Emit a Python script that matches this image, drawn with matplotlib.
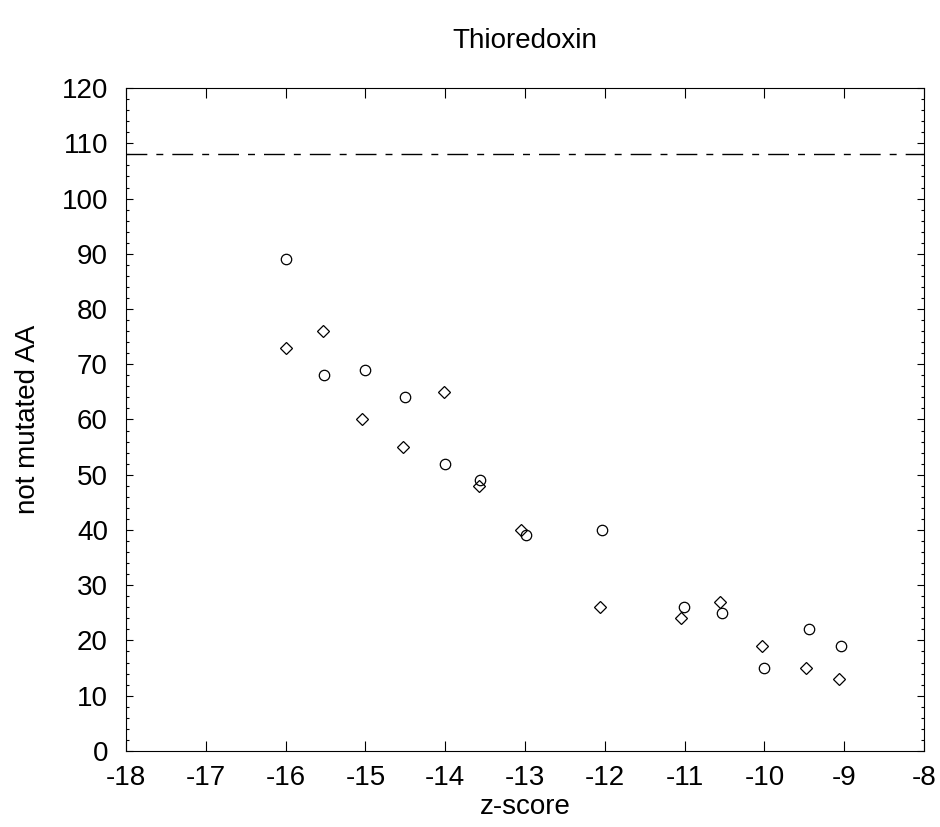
import numpy as np
import matplotlib
matplotlib.use("Agg")
import matplotlib.pyplot as plt
from matplotlib.ticker import MultipleLocator, NullLocator

plt.rcParams['font.family'] = ['Liberation Sans', 'DejaVu Sans']
plt.rcParams['axes.unicode_minus'] = False

# circles
circ_x = [-16.0, -15.52, -15.0, -14.5, -14.0, -13.56, -12.99, -12.03, -11.01, -10.53, -10.0, -9.44, -9.04]
circ_y = [89, 68, 69, 64, 52, 49, 39, 40, 26, 25, 15, 22, 19]
# diamonds
diam_x = [-16.0, -15.53, -15.04, -14.53, -14.02, -13.58, -13.05, -12.06, -11.05, -10.56, -10.03, -9.48, -9.06]
diam_y = [73, 76, 60, 55, 65, 48, 40, 26, 24, 27, 19, 15, 13]
# reference level
ref_level = 108

fig = plt.figure(figsize=(9.4, 8.27), dpi=100)
ax = fig.add_axes([0.134, 0.092, 0.849, 0.8015])

ax.plot(circ_x, circ_y, linestyle='none', marker='o', ms=7.5, mfc='none', mec='black', mew=0.9)
ax.plot(diam_x, diam_y, linestyle='none', marker='D', ms=6, mfc='none', mec='black', mew=0.9)
ax.axhline(ref_level, color='black', lw=1, dashes=(15, 6.5, 5, 6.5))

ax.set_xlim(-18, -8)
ax.set_ylim(0, 120)
ax.xaxis.set_major_locator(MultipleLocator(1))
ax.xaxis.set_minor_locator(NullLocator())
ax.yaxis.set_major_locator(MultipleLocator(10))
ax.yaxis.set_minor_locator(MultipleLocator(2))
ax.tick_params(axis='x', which='major', direction='in', top=True, length=7, width=0.8, labelsize=20, pad=10)
ax.tick_params(axis='y', which='major', direction='in', right=True, length=5, width=0.8, labelsize=20, pad=13)
ax.tick_params(axis='y', which='minor', direction='in', right=True, length=2.5, width=0.8)
for s in ax.spines.values():
    s.set_linewidth(0.8)

ax.set_xlabel('z-score', fontsize=20, labelpad=2)
ax.set_ylabel('not mutated AA', fontsize=20, labelpad=15)
fig.text(0.5585, 0.951, 'Thioredoxin', fontsize=20, ha='center', va='center')

fig.savefig('out.png', dpi=100)
